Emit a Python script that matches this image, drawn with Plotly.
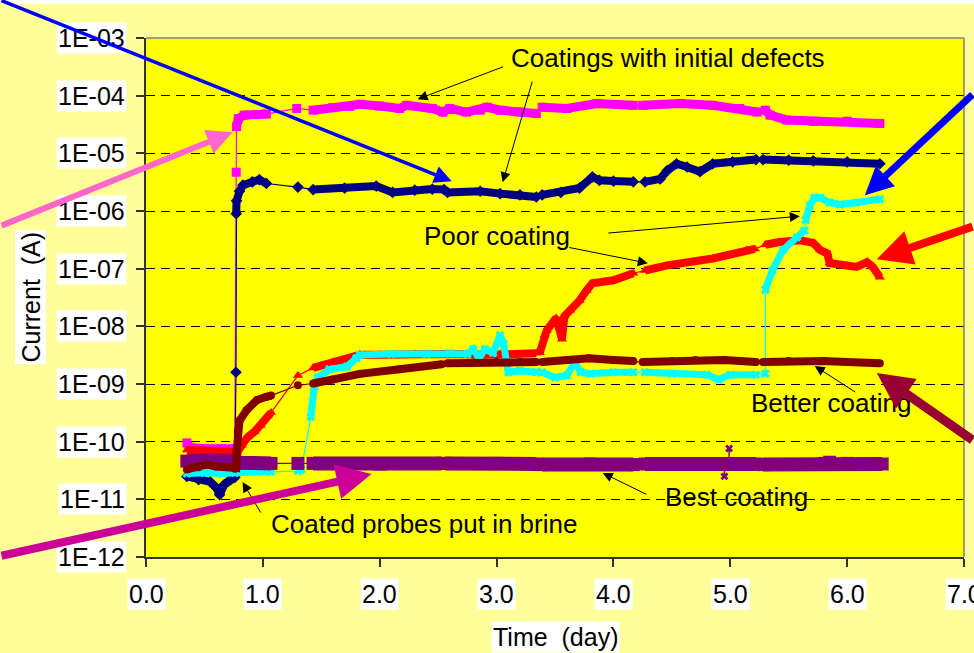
import plotly.graph_objects as go

# ---------------- data (time in days, current in A); None = break in the thick band ----------------
mag_x = [0.35, 0.37, 0.5, 0.65, 0.76, None, 0.772, None, 0.775, 0.79, 0.84, 0.95, 1.03, None, 1.29, None,
         1.43, 1.6, 1.74, 1.83, 2.0, 2.17, 2.23, 2.45, 2.54, 2.6, 2.74, 2.86, 2.92, 3.03, 3.2, 3.34, None,
         3.39, 3.6, 3.86, 4.17, None, 4.25, 4.57, 4.85, 5.08, 5.23, None, 5.3, 5.34, 5.48, 5.71, 6.0, 6.28]
mag_y = [9.5e-11, 8e-11, 7.5e-11, 7.5e-11, 7.5e-11, None, 4.7e-6, None, 2.9e-5, 4e-5, 4.6e-5, 4.7e-5, 4.8e-5, None, 6e-5, None,
         5.6e-5, 6.2e-5, 6.5e-5, 7.1e-5, 6.6e-5, 6.0e-5, 6.8e-5, 6.0e-5, 5.2e-5, 6.0e-5, 5.2e-5, 5.6e-5, 6.3e-5, 5.6e-5, 5.2e-5, 4.9e-5, None,
         6.3e-5, 6.0e-5, 7.3e-5, 6.8e-5, None, 6.8e-5, 7.3e-5, 6.8e-5, 6.0e-5, 5.2e-5, None, 5.6e-5, 4.6e-5, 3.8e-5, 3.6e-5, 3.6e-5, 3.3e-5]

nav_x = [0.35, 0.45, 0.55, 0.6, 0.63, 0.67, 0.72, 0.76, None, 0.77, None, 0.772, 0.775, 0.8, 0.83, 0.91, 0.97, 1.03, None,
         1.3, None, 1.43, 1.7, 1.97, 2.11, 2.3, 2.45, 2.55, None, 2.58, 2.86, 3.03, 3.2, 3.34, None,
         3.39, 3.55, 3.71, 3.82, 3.88, 4.0, 4.17, None, 4.27, 4.4, 4.46, 4.54, 4.63, 4.74, 4.85, 5.02, 5.22, None,
         5.28, 5.5, 5.71, 6.0, 6.28]
nav_y = [2.5e-11, 2.2e-11, 2.0e-11, 1.6e-11, 1.2e-11, 1.8e-11, 2.2e-11, 2.4e-11, None, 1.6e-9, None, 9e-7, 1.5e-6, 2.2e-6, 2.8e-6, 3.2e-6, 3.5e-6, 3.0e-6, None,
         2.6e-6, None, 2.35e-6, 2.5e-6, 2.7e-6, 2.1e-6, 2.3e-6, 2.4e-6, 2.35e-6, None, 2.1e-6, 2.2e-6, 2.0e-6, 1.9e-6, 1.75e-6, None,
         1.9e-6, 2.1e-6, 2.5e-6, 3.9e-6, 3.4e-6, 3.3e-6, 3.2e-6, None, 3.2e-6, 3.6e-6, 5.0e-6, 6.6e-6, 5.8e-6, 4.8e-6, 6.6e-6, 7.1e-6, 7.8e-6, None,
         7.8e-6, 7.6e-6, 7.4e-6, 7.1e-6, 6.6e-6]

red_x = [0.35, 0.5, 0.65, 0.76, 0.78, 0.82, 0.87, 0.93, 0.98, 1.04, 1.07, None, 1.3, None,
         1.43, 1.5, 1.6, 1.74, 1.83, 2.0, 2.3, 2.6, 2.9, 3.03, 3.2, 3.34, None,
         3.37, 3.41, 3.43, 3.51, 3.56, 3.58, 3.63, 3.71, 3.77, 3.82, 4.0, 4.17, None,
         4.27, 4.46, 4.85, 5.14, 5.21, None,
         5.3, 5.42, 5.6, 5.71, 5.77, 5.83, 5.85, 6.0, 6.08, 6.17, 6.22, 6.28]
red_y = [7.2e-11, 7e-11, 6.8e-11, 7e-11, 6.6e-11, 8.7e-11, 1.2e-10, 1.5e-10, 1.9e-10, 2.8e-10, 3.2e-10, None, 1.4e-9, None,
         1.9e-9, 2.1e-9, 2.4e-9, 2.8e-9, 3.2e-9, 3.2e-9, 3.3e-9, 3.3e-9, 3.2e-9, 3.3e-9, 3.3e-9, 3.4e-9, None,
         3.5e-9, 7e-9, 8.5e-9, 1.4e-8, 6e-9, 1.5e-8, 1.9e-8, 2.8e-8, 4.2e-8, 5.6e-8, 6.3e-8, 8.3e-8, None,
         9.3e-8, 1.14e-7, 1.5e-7, 2.1e-7, 2.2e-7, None,
         2.6e-7, 2.9e-7, 3.1e-7, 2.8e-7, 2.1e-7, 1.85e-7, 1.25e-7, 1.14e-7, 1.07e-7, 1.3e-7, 1.07e-7, 7.1e-8]

cya_x = [0.35, 0.5, 0.65, 0.76, 0.8, 0.95, 1.07, None, 1.3, 1.33, None,
         1.41, 1.44, 1.47, 1.57, 1.72, 1.8, 1.83, 2.1, 2.4, 2.6, 2.75, 2.8, 2.85, 2.9, 2.97, 3.03, 3.06, 3.1, 3.2, 3.34, None,
         3.39, 3.5, 3.6, 3.67, 3.72, 3.8, 4.0, 4.17, None, 4.27, 4.5, 4.8, 4.9, 5.0, 5.22, None, 5.3, None,
         5.3, 5.36, 5.45, 5.57, 5.635, None, 5.645, 5.68, 5.72, 5.77, 5.85, 5.94, 6.08, 6.28]
cya_y = [2.8e-11, 2.9e-11, 2.8e-11, 2.9e-11, 3e-11, 3e-11, 3e-11, None, 3.1e-11, 3.3e-11, None,
         2.7e-10, 8.9e-10, 1.3e-9, 1.8e-9, 2e-9, 2.8e-9, 3.2e-9, 3.3e-9, 3.3e-9, 3.4e-9, 3.3e-9, 4e-9, 2.8e-9, 4e-9, 3.5e-9, 7e-9, 5e-9, 1.6e-9, 1.7e-9, 1.6e-9, None,
         1.6e-9, 1.3e-9, 1.4e-9, 2.4e-9, 1.6e-9, 1.5e-9, 1.6e-9, 1.6e-9, None, 1.6e-9, 1.5e-9, 1.45e-9, 1.2e-9, 1.45e-9, 1.45e-9, None, 1.5e-9, None,
         4.3e-8, 9.3e-8, 2.1e-7, 3.5e-7, 4.6e-7, None, 7e-7, 1.25e-6, 1.7e-6, 1.7e-6, 1.4e-6, 1.3e-6, 1.4e-6, 1.6e-6]

pur_x = [0.35, 0.5, 0.65, 0.76, 0.8, 0.95, 1.07, None, 1.3, None, 1.43, 2.0, 2.53, None, 2.56, 3.0, 3.34, None,
         3.39, 3.8, 4.17, None, 4.27, 4.6, 4.97, 5.22, None, 5.28, 5.8, 5.85, 6.0, 6.3]
pur_y = [4.6e-11, 4.8e-11, 4.8e-11, 4.6e-11, 4.3e-11, 4.2e-11, 4.2e-11, None, 4.2e-11, None, 4.2e-11, 4.1e-11, 4.2e-11, None, 4.2e-11, 4.2e-11, 4.1e-11, None,
         4e-11, 4.1e-11, 4e-11, None, 4.1e-11, 4.1e-11, 4.1e-11, 4.1e-11, None, 4e-11, 4.2e-11, 4.4e-11, 4.2e-11, 4.1e-11]
pur_spike_x = [4.99, 4.99, None, 4.95, 4.95]
pur_spike_y = [7.6e-11, 4.4e-11, None, 3.8e-11, 2.5e-11]

mar_x = [0.35, 0.45, 0.52, 0.6, 0.7, 0.76, 0.772, 0.776, 0.785, 0.8, 0.86, 0.95, 1.03, 1.07, None, 1.3, None,
         1.43, 1.6, 1.83, 2.17, 2.53, None, 2.58, 2.8, 3.0, 3.2, 3.34, None,
         3.39, 3.6, 3.79, 4.0, 4.17, None, 4.25, 4.5, 4.7, 4.95, 5.22, None, 5.28, 5.5, 5.8, 6.0, 6.28]
mar_y = [3.3e-11, 3.6e-11, 4e-11, 3.7e-11, 3.6e-11, 3.4e-11, 3.5e-11, 7e-11, 1.5e-10, 2.3e-10, 3.5e-10, 5.3e-10, 6e-10, 6.3e-10, None, 9.5e-10, None,
         1.02e-9, 1.2e-9, 1.5e-9, 1.8e-9, 2.2e-9, None, 2.3e-9, 2.35e-9, 2.4e-9, 2.4e-9, 2.4e-9, None,
         2.4e-9, 2.6e-9, 2.8e-9, 2.6e-9, 2.5e-9, None, 2.4e-9, 2.5e-9, 2.6e-9, 2.6e-9, 2.4e-9, None, 2.4e-9, 2.5e-9, 2.5e-9, 2.4e-9, 2.3e-9]

x_ticks = [0, 1, 2, 3, 4, 5, 6, 7]
x_tick_labels = ["0.0", "1.0", "2.0", "3.0", "4.0", "5.0", "6.0", "7.0"]
y_tick_exps = [-3, -4, -5, -6, -7, -8, -9, -10, -11, -12]
y_tick_labels = ["1E-03", "1E-04", "1E-05", "1E-06", "1E-07", "1E-08", "1E-09", "1E-10", "1E-11", "1E-12"]

FONT = "Liberation Sans, Arial, sans-serif"
fig = go.Figure()


def add_series(x, y, color, width, symbol, msize):
    pts = [(a, b) for a, b in zip(x, y) if a is not None and b is not None]
    fig.add_trace(go.Scatter(x=[p[0] for p in pts], y=[p[1] for p in pts], mode="lines",
                             line=dict(color=color, width=1.2), hoverinfo="skip", showlegend=False))
    fig.add_trace(go.Scatter(x=x, y=y, mode="lines+markers", connectgaps=False,
                             line=dict(color=color, width=width),
                             marker=dict(symbol=symbol, size=msize, color=color, line=dict(width=0)),
                             showlegend=False))


assert len(mag_x) == len(mag_y) and len(nav_x) == len(nav_y) and len(red_x) == len(red_y)
assert len(cya_x) == len(cya_y) and len(pur_x) == len(pur_y) and len(mar_x) == len(mar_y)

add_series(mag_x, mag_y, "#FF00FF", 9, "square", 9)
add_series(nav_x, nav_y, "#000080", 8, "diamond", 9)
add_series(red_x, red_y, "#FF0000", 8, "triangle-up", 9)
add_series(cya_x, cya_y, "#00FFFF", 7, "x", 8)
add_series(pur_x, pur_y, "#800080", 14, "square", 13)
fig.add_trace(go.Scatter(x=pur_spike_x, y=pur_spike_y, mode="lines+markers",
                         line=dict(color="#800080", width=1.5),
                         marker=dict(symbol="x", size=7, color="#800080"), showlegend=False))
add_series(mar_x, mar_y, "#800000", 8, "circle", 8)

fig.update_layout(
    width=974, height=653,
    margin=dict(l=146, r=10, t=38, b=96),
    paper_bgcolor="#FFFF99", plot_bgcolor="#FFFF00",
    showlegend=False,
    font=dict(family=FONT, color="black"),
)
fig.update_xaxes(range=[0, 7], tickmode="array", tickvals=x_ticks, showticklabels=False,
                 ticks="outside", ticklen=8, tickwidth=1.5, tickcolor="#333333",
                 showline=True, linecolor="#333333", linewidth=2, showgrid=False, zeroline=False)
fig.update_yaxes(type="log", range=[-12, -3], tickmode="array", tickvals=[10.0 ** e for e in y_tick_exps],
                 showticklabels=False, ticks="outside", ticklen=8, tickwidth=1.5, tickcolor="#333333",
                 showline=True, linecolor="#333333", linewidth=2,
                 showgrid=True, gridcolor="#000000", gridwidth=1, griddash="9px,6px", zeroline=False)

# plot border (top/right) and top white strip
fig.add_shape(type="line", xref="paper", yref="paper", x0=0, x1=1, y0=1, y1=1, line=dict(color="#808080", width=1.5))
fig.add_shape(type="line", xref="paper", yref="paper", x0=1, x1=1, y0=0, y1=1, line=dict(color="#808080", width=1.5))
fig.add_shape(type="rect", xref="paper", yref="paper", x0=-0.3, x1=1.1, y0=1.066, y1=1.1,
              fillcolor="white", line=dict(width=0), layer="above")

# tick labels with white boxes
for e, t in zip(y_tick_exps, y_tick_labels):
    fig.add_annotation(xref="paper", yref="y", x=0, y=e, xshift=-19, xanchor="right", yanchor="middle",
                       text=t, showarrow=False, bgcolor="white", borderpad=1,
                       font=dict(size=25, family=FONT, color="black"))
for v, t in zip(x_ticks, x_tick_labels):
    fig.add_annotation(xref="x", yref="paper", x=v, y=0, yshift=-37, xanchor="center", yanchor="middle",
                       text=t, showarrow=False, bgcolor="white", borderpad=1,
                       font=dict(size=25, family=FONT, color="black"))

# axis titles
fig.add_annotation(xref="paper", yref="paper", x=0.5, y=0, yshift=-80, xanchor="center", yanchor="middle",
                   text="Time \u00a0(day)", showarrow=False,
                   bgcolor="white", borderpad=1, font=dict(size=25, family=FONT, color="black"))
fig.add_annotation(xref="paper", yref="paper", x=0, y=0.5, xshift=-116, xanchor="center", yanchor="middle",
                   text="Current \u00a0(A)", textangle=-90,
                   showarrow=False, bgcolor="white", borderpad=1, font=dict(size=25, family=FONT, color="black"))

# text labels (day, log10 A)
labels = [
    ("Coatings with initial defects", 4.47, -3.35),
    ("Poor coating", 3.0, -6.44),
    ("Better coating", 5.86, -9.33),
    ("Best coating", 5.05, -10.96),
    ("Coated probes put in brine", 2.38, -11.43),
]
for t, x, y in labels:
    fig.add_annotation(xref="x", yref="y", x=x, y=y, text=t, showarrow=False,
                       font=dict(size=26, family=FONT, color="black"))

# small black pointer arrows: tip (day, log10 A), tail offset in px
pointers = [
    (2.324, -4.062, 87, -33),
    (3.052, -5.501, 30, -102),
    (5.595, -6.090, -193, 17),
    (4.294, -6.905, -80, -16),
    (5.723, -8.689, 42, 27),
    (3.908, -10.543, 45, 22),
    (0.826, -10.700, 19, 32),
]
for x, y, ax, ay in pointers:
    fig.add_annotation(xref="x", yref="y", x=x, y=y, ax=ax, ay=ay, text="", showarrow=True,
                       arrowhead=2, arrowsize=2, arrowwidth=1, arrowcolor="black")

# big coloured arrows from outside the plot
big = [
    (2.616, -5.484, -462, -183, "#0000FF", 3.5, 1.0),
    (0.741, -4.634, -243, 94, "#FF66CC", 6, 0.85),
    (1.930, -10.562, -385, 82, "#CC0099", 8, 0.875),
    (6.152, -5.726, 121, -102, "#0000FF", 7, 0.8),
    (6.254, -6.835, 110, -33, "#FF0000", 8, 0.875),
    (6.254, -8.811, 110, 68, "#990033", 9, 0.8),
]
for x, y, ax, ay, c, w, s in big:
    fig.add_annotation(xref="x", yref="y", x=x, y=y, ax=ax, ay=ay, text="", showarrow=True,
                       arrowhead=2, arrowsize=s, arrowwidth=w, arrowcolor=c)

fig.write_html("out.html", config={"displayModeBar": False},
               post_script="document.body.style.margin='0px';document.body.style.overflow='hidden';")
